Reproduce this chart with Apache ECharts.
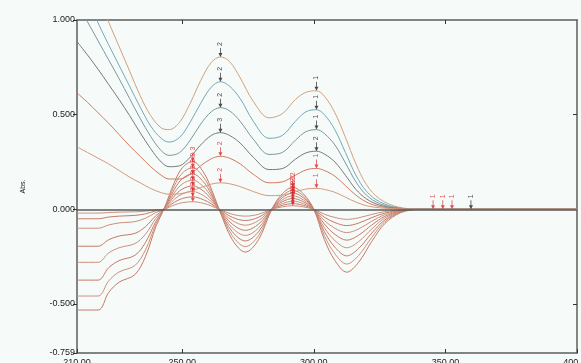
<!DOCTYPE html>
<html>
<head>
<meta charset="utf-8">
<script src="https://cdn.jsdelivr.net/npm/echarts@6/dist/echarts.min.js"></script>
<style>
  html, body { margin: 0; padding: 0; background: #f6faf8; }
  #chart { width: 581px; height: 363px; }
</style>
</head>
<body>
<div id="chart"></div>
<script>
// wavelengths (nm) for the absorption spectra
const upperNm = [210, 214, 218, 222, 226, 230, 234, 238, 242, 245, 249, 253, 257, 261, 264.5, 268, 272, 277, 283, 288, 293, 297, 301, 304, 308, 312, 316, 320, 325, 332, 340, 400];
const upper1 = [1.45, 1.3, 1.13, 0.99, 0.86, 0.73, 0.60, 0.495, 0.43, 0.421, 0.46, 0.56, 0.68, 0.775, 0.805, 0.78, 0.695, 0.57, 0.483, 0.505, 0.58, 0.618, 0.626, 0.598, 0.51, 0.38, 0.24, 0.13, 0.055, 0.012, 0.002, 0];
const upper2 = [1.25, 1.12, 0.985, 0.87, 0.76, 0.65, 0.54, 0.44, 0.375, 0.355, 0.38, 0.46, 0.56, 0.645, 0.674, 0.65, 0.585, 0.465, 0.375, 0.39, 0.465, 0.515, 0.526, 0.50, 0.42, 0.3, 0.18, 0.095, 0.04, 0.008, 0.001, 0];
const upper3 = [1.08, 0.99, 0.89, 0.79, 0.69, 0.585, 0.48, 0.385, 0.31, 0.285, 0.30, 0.365, 0.45, 0.515, 0.537, 0.52, 0.465, 0.37, 0.29, 0.30, 0.365, 0.41, 0.421, 0.40, 0.34, 0.245, 0.145, 0.075, 0.03, 0.006, 0.001, 0];
const upper4 = [0.886, 0.815, 0.74, 0.66, 0.58, 0.495, 0.405, 0.32, 0.25, 0.225, 0.23, 0.275, 0.34, 0.39, 0.405, 0.39, 0.35, 0.275, 0.21, 0.215, 0.265, 0.298, 0.307, 0.292, 0.25, 0.18, 0.105, 0.055, 0.022, 0.004, 0, 0];
const upper5 = [0.615, 0.565, 0.51, 0.455, 0.395, 0.335, 0.28, 0.225, 0.18, 0.16, 0.16, 0.185, 0.23, 0.267, 0.28, 0.27, 0.24, 0.185, 0.14, 0.145, 0.18, 0.208, 0.216, 0.205, 0.175, 0.125, 0.075, 0.038, 0.015, 0.003, 0, 0];
const upper6 = [0.33, 0.3, 0.27, 0.24, 0.205, 0.17, 0.14, 0.11, 0.088, 0.08, 0.082, 0.095, 0.115, 0.133, 0.14, 0.135, 0.12, 0.094, 0.072, 0.075, 0.093, 0.107, 0.111, 0.105, 0.09, 0.064, 0.038, 0.019, 0.008, 0.002, 0, 0];

// wavelengths (nm) for the difference spectra
const lowerNm = [210, 218, 222, 226, 232, 236, 240, 243, 247, 250, 254, 258, 261, 264, 269, 274, 279, 284, 288, 292, 296, 300, 304, 308, 312.5, 317, 322, 327, 333, 340, 400];
const lower1 = [-0.532, -0.532, -0.44, -0.385, -0.345, -0.25, -0.09, 0, 0.142, 0.219, 0.253, 0.197, 0.11, 0, -0.16, -0.226, -0.16, 0, 0.082, 0.116, 0.082, 0, -0.16, -0.27, -0.332, -0.28, -0.17, -0.075, -0.018, 0, 0];
const lower2 = [-0.458, -0.458, -0.379, -0.331, -0.297, -0.215, -0.077, 0, 0.124, 0.191, 0.22, 0.171, 0.096, 0, -0.139, -0.197, -0.139, 0, 0.071, 0.101, 0.071, 0, -0.139, -0.235, -0.289, -0.244, -0.148, -0.065, -0.016, 0, 0];
const lower3 = [-0.374, -0.374, -0.309, -0.271, -0.243, -0.176, -0.063, 0, 0.105, 0.162, 0.187, 0.146, 0.081, 0, -0.118, -0.167, -0.118, 0, 0.061, 0.086, 0.061, 0, -0.118, -0.2, -0.246, -0.207, -0.126, -0.056, -0.013, 0, 0];
const lower4 = [-0.28, -0.28, -0.231, -0.203, -0.181, -0.132, -0.047, 0, 0.087, 0.134, 0.154, 0.12, 0.067, 0, -0.098, -0.138, -0.098, 0, 0.05, 0.071, 0.05, 0, -0.098, -0.165, -0.203, -0.171, -0.104, -0.046, -0.011, 0, 0];
const lower5 = [-0.195, -0.195, -0.161, -0.141, -0.127, -0.092, -0.033, 0, 0.07, 0.107, 0.124, 0.097, 0.054, 0, -0.078, -0.111, -0.078, 0, 0.04, 0.057, 0.04, 0, -0.078, -0.132, -0.163, -0.137, -0.083, -0.037, -0.009, 0, 0];
const lower6 = [-0.10, -0.10, -0.083, -0.072, -0.065, -0.047, -0.017, 0, 0.053, 0.081, 0.094, 0.073, 0.041, 0, -0.059, -0.084, -0.059, 0, 0.03, 0.043, 0.03, 0, -0.059, -0.1, -0.123, -0.104, -0.063, -0.028, -0.007, 0, 0];
const lower7 = [-0.05, -0.05, -0.041, -0.036, -0.032, -0.024, -0.008, 0, 0.037, 0.057, 0.066, 0.051, 0.029, 0, -0.042, -0.059, -0.042, 0, 0.021, 0.03, 0.021, 0, -0.042, -0.07, -0.086, -0.073, -0.044, -0.02, -0.005, 0, 0];
const lower8 = [-0.02, -0.02, -0.017, -0.015, -0.013, -0.01, -0.003, 0, 0.023, 0.035, 0.04, 0.032, 0.018, 0, -0.026, -0.036, -0.026, 0, 0.013, 0.019, 0.013, 0, -0.026, -0.043, -0.053, -0.045, -0.027, -0.012, -0.003, 0, 0];

// peak pick markers: [nm, abs, label]
const blackMarks = [
  [264.5, 0.805, '2'], [264.5, 0.674, '2'], [264.5, 0.537, '2'], [264.5, 0.405, '3'],
  [301, 0.626, '1'], [301, 0.526, '1'], [301, 0.421, '1'], [301, 0.307, '2'],
  [359.7, 0, '1']
];
const redMarks = [
  [264.5, 0.28, '2'], [264.5, 0.14, '2'], [301, 0.216, '1'], [301, 0.111, '1'],
  [254, 0.253, '3'], [254, 0.22, '2'], [254, 0.187, '2'], [254, 0.154, '2'],
  [254, 0.124, '2'], [254, 0.094, '2'], [254, 0.066, '2'], [254, 0.04, '2'],
  [292, 0.116, '2'], [292, 0.101, '2'], [292, 0.086, '2'], [292, 0.071, '2'],
  [292, 0.057, '2'], [292, 0.043, '1'], [292, 0.03, '1'], [292, 0.019, '1'],
  [345.3, 0, '1'], [349, 0, '1'], [352.5, 0, '1']
];

const xTicks = [210, 250, 300, 350, 400];
const yTicks = [-0.759, -0.5, 0, 0.5, 1];

const upperSets = [upper1, upper2, upper3, upper4, upper5, upper6];
const upperColors = ['#d0a27c', '#72a8ba', '#77999e', '#737c7a', '#d27a60', '#d69a7c'];
const lowerSets = [lower1, lower2, lower3, lower4, lower5, lower6, lower7, lower8];

const pairs = (xs, ys) => xs.map((x, i) => [x, ys[i]]);
const font = 'Liberation Sans, Arial, sans-serif';
const axisLineStyle = { color: '#5a5f5d', width: 1.5 };
const arrowPath = 'path://M4,0 L6,0 L6,10 L10,10 L5,18 L0,10 L4,10 Z';

const series = [];
lowerSets.forEach((d, i) => {
  series.push({
    type: 'line',
    data: pairs(lowerNm, d),
    smooth: 0.35,
    symbol: 'none',
    lineStyle: { width: 1, color: i % 2 ? '#cc907e' : '#c47a66' },
    z: 2,
    markLine: i === 0 ? {
      silent: true,
      symbol: ['none', 'none'],
      label: { show: false },
      lineStyle: { color: '#555a58', width: 1.5, type: 'solid' },
      data: [{ yAxis: 0 }]
    } : undefined
  });
});
upperSets.forEach((d, i) => {
  series.push({
    type: 'line',
    data: pairs(upperNm, d),
    smooth: 0.35,
    symbol: 'none',
    lineStyle: { width: 1, color: upperColors[i] },
    z: 3
  });
});

function markSeries(marks, color) {
  return {
    type: 'scatter',
    data: marks.map(m => ({ value: [m[0], m[1]], name: m[2] })),
    symbol: arrowPath,
    symbolSize: [4, 9],
    symbolOffset: [0, -4.5],
    itemStyle: { color: color },
    label: {
      show: true,
      formatter: p => p.name,
      position: 'top',
      distance: 2,
      rotate: 90,
      align: 'left',
      verticalAlign: 'middle',
      fontSize: 7,
      fontFamily: font,
      color: color
    },
    z: 5
  };
}
series.push(markSeries(redMarks, '#d8262a'));
series.push(markSeries(blackMarks, '#1e1e1e'));

const chart = echarts.init(document.getElementById('chart'));
chart.setOption({
  animation: false,
  backgroundColor: '#f6faf8',
  grid: { left: 77, right: 4, top: 20, bottom: 10, outerBoundsMode: 'none' },
  xAxis: [{
    type: 'value', min: 210, max: 400, position: 'bottom',
    axisLine: { show: true, onZero: false, lineStyle: axisLineStyle },
    axisTick: { show: true, inside: true, length: 4, customValues: xTicks, lineStyle: { color: '#333' } },
    axisLabel: {
      customValues: xTicks, formatter: v => v.toFixed(2), fontSize: 9, color: '#222', margin: 5,
      fontFamily: font, alignMinLabel: 'center', alignMaxLabel: 'center'
    },
    splitLine: { show: false }
  }, {
    type: 'value', min: 210, max: 400, position: 'top',
    axisLine: { show: true, onZero: false, lineStyle: axisLineStyle },
    axisTick: { show: true, inside: true, length: 4, customValues: [250, 300, 350], lineStyle: { color: '#333' } },
    axisLabel: { show: false },
    splitLine: { show: false }
  }],
  yAxis: [{
    type: 'value', min: -0.759, max: 1,
    name: 'Abs.', nameLocation: 'middle', nameGap: 50,
    nameTextStyle: { fontSize: 7, color: '#222', fontFamily: font },
    axisLine: { show: true, onZero: false, lineStyle: axisLineStyle },
    axisTick: { show: true, inside: false, length: 4, customValues: yTicks, lineStyle: { color: '#333' } },
    axisLabel: { customValues: yTicks, formatter: v => v.toFixed(3), fontSize: 9, color: '#222', margin: 2, fontFamily: font },
    splitLine: { show: false }
  }, {
    type: 'value', min: -0.759, max: 1, position: 'right',
    axisLine: { show: true, onZero: false, lineStyle: axisLineStyle },
    axisTick: { show: true, inside: true, length: 4, customValues: [-0.5, 0, 0.5], lineStyle: { color: '#333' } },
    axisLabel: { show: false },
    splitLine: { show: false }
  }],
  series: series
});
</script>
</body>
</html>
